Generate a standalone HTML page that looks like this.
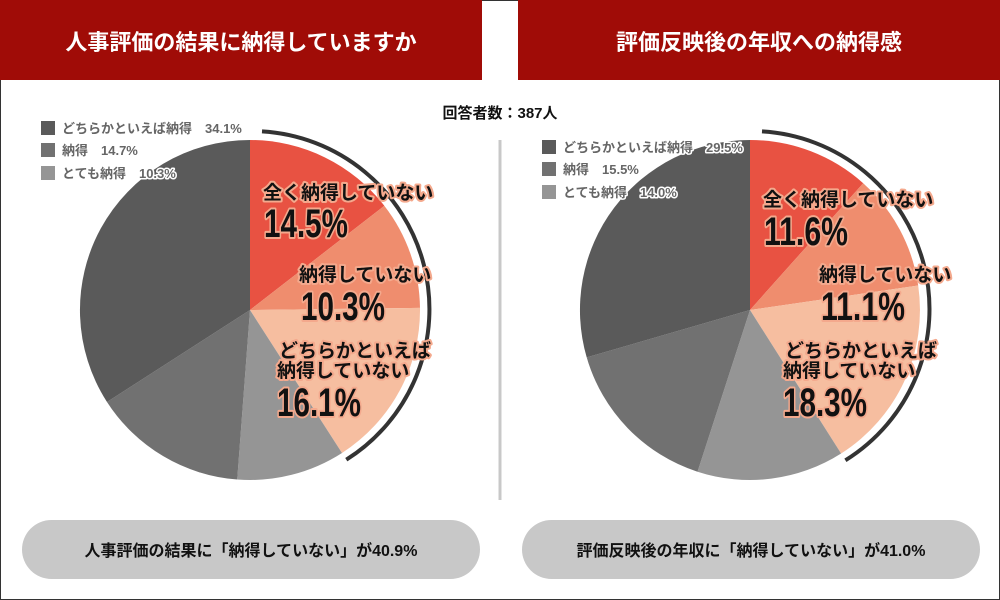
<!DOCTYPE html>
<html><head><meta charset="utf-8"><style>
body{margin:0;width:1000px;height:600px;overflow:hidden;background:#fff}
svg{display:block}
.j{font-family:"Liberation Sans","Noto Sans CJK JP",sans-serif}
.lbl{font-weight:bold;font-size:19px;fill:#111;stroke:#f4a98d;stroke-width:4px;paint-order:stroke;stroke-linejoin:round}
.big{font-weight:bold;font-size:40px;fill:#111;stroke:#f4a98d;stroke-width:4px;paint-order:stroke;stroke-linejoin:round}
.leg{font-weight:bold;font-size:13px;fill:#666;stroke:#fff;stroke-width:3px;paint-order:stroke;stroke-linejoin:round}
</style></head><body>
<svg width="1000" height="600" class="j">
<rect x="0.5" y="0.5" width="999" height="599" fill="#fff" stroke="#333"/>
<rect x="0" y="0" width="482" height="80" fill="#a00c07"/>
<rect x="518" y="0" width="482" height="80" fill="#a00c07"/>
<text x="241" y="50" fill="#fff" font-size="22" font-weight="bold" text-anchor="middle">人事評価の結果に納得していますか</text>
<text x="759" y="50" fill="#fff" font-size="22" font-weight="bold" text-anchor="middle">評価反映後の年収への納得感</text>
<text x="500" y="118" fill="#111" font-size="15" font-weight="bold" text-anchor="middle">回答者数：387人</text>
<line x1="500" y1="140" x2="500" y2="500" stroke="#c8c8c8" stroke-width="3"/>
<g>
<path d="M250,310 L250,140 A170,170 0 0 1 384.3,205.8Z" fill="#e85242"/>
<path d="M250,310 L384.3,205.8 A170,170 0 0 1 420,307.9Z" fill="#ef8d6e"/>
<path d="M250,310 L420,307.9 A170,170 0 0 1 342,453Z" fill="#f6bea0"/>
<path d="M250,310 L342,453 A170,170 0 0 1 237.2,479.5Z" fill="#959595"/>
<path d="M250,310 L237.2,479.5 A170,170 0 0 1 107,402Z" fill="#717171"/>
<path d="M250,310 L107,402 A170,170 0 0 1 250,140Z" fill="#5a5a5a"/>
<path d="M262,131.4 A178,178 0 0 1 346.3,459.7" fill="none" stroke="#333" stroke-width="4"/>
</g>
<g>
<path d="M750,310 L750,140 A170,170 0 0 1 863.2,183.2Z" fill="#e85242"/>
<path d="M750,310 L863.2,183.2 A170,170 0 0 1 918.2,285.5Z" fill="#ef8d6e"/>
<path d="M750,310 L918.2,285.5 A170,170 0 0 1 841.1,453.5Z" fill="#f6bea0"/>
<path d="M750,310 L841.1,453.5 A170,170 0 0 1 697.5,471.7Z" fill="#959595"/>
<path d="M750,310 L697.5,471.7 A170,170 0 0 1 586.7,357.4Z" fill="#717171"/>
<path d="M750,310 L586.7,357.4 A170,170 0 0 1 750,140Z" fill="#5a5a5a"/>
<path d="M762,131.4 A178,178 0 0 1 845.4,460.3" fill="none" stroke="#333" stroke-width="4"/>
</g>
<rect x="41" y="121" width="14" height="14" fill="#5a5a5a"/>
<rect x="41" y="143" width="14" height="14" fill="#717171"/>
<rect x="41" y="166" width="14" height="14" fill="#959595"/>
<text class="leg" x="62" y="133">どちらかといえば納得　34.1%</text>
<text class="leg" x="62" y="155">納得　14.7%</text>
<text class="leg" x="62" y="178">とても納得　10.3%</text>
<rect x="542" y="140" width="14" height="14" fill="#5a5a5a"/>
<rect x="542" y="162" width="14" height="14" fill="#717171"/>
<rect x="542" y="185" width="14" height="14" fill="#959595"/>
<text class="leg" x="563" y="152">どちらかといえば納得　29.5%</text>
<text class="leg" x="563" y="174">納得　15.5%</text>
<text class="leg" x="563" y="197">とても納得　14.0%</text>
<text class="lbl" x="263" y="199">全く納得していない</text>
<text class="big" x="264" y="237" textLength="84" lengthAdjust="spacingAndGlyphs">14.5%</text>
<text class="lbl" x="299" y="281">納得していない</text>
<text class="big" x="301" y="320" textLength="84" lengthAdjust="spacingAndGlyphs">10.3%</text>
<text class="lbl" x="279" y="357">どちらかといえば</text>
<text class="lbl" x="277" y="377">納得していない</text>
<text class="big" x="277" y="416" textLength="84" lengthAdjust="spacingAndGlyphs">16.1%</text>
<text class="lbl" x="763" y="206">全く納得していない</text>
<text class="big" x="764" y="245" textLength="84" lengthAdjust="spacingAndGlyphs">11.6%</text>
<text class="lbl" x="819" y="281">納得していない</text>
<text class="big" x="821" y="320" textLength="84" lengthAdjust="spacingAndGlyphs">11.1%</text>
<text class="lbl" x="785" y="357">どちらかといえば</text>
<text class="lbl" x="783" y="377">納得していない</text>
<text class="big" x="783" y="416" textLength="84" lengthAdjust="spacingAndGlyphs">18.3%</text>
<rect x="22" y="520" width="458" height="59" rx="29.5" fill="#c8c8c8"/>
<rect x="522" y="520" width="458" height="59" rx="29.5" fill="#c8c8c8"/>
<text x="251" y="556" font-size="16" font-weight="bold" fill="#111" text-anchor="middle">人事評価の結果に「納得していない」が40.9%</text>
<text x="751" y="556" font-size="16" font-weight="bold" fill="#111" text-anchor="middle">評価反映後の年収に「納得していない」が41.0%</text>
</svg>
</body></html>
